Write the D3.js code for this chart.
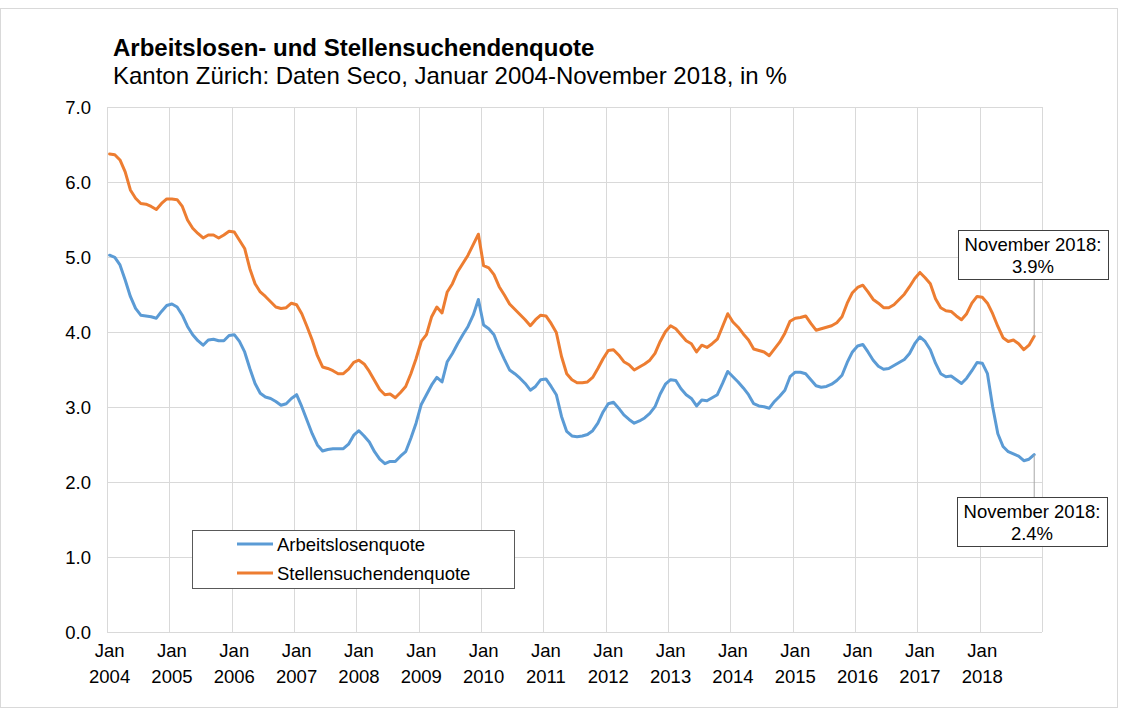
<!DOCTYPE html>
<html>
  <head>
    <meta charset="utf-8">
    <title>Arbeitslosen- und Stellensuchendenquote</title>
    <style>
      body { margin: 0; background: #fff; }
      svg { font-family: "Liberation Sans", Arial, sans-serif; }
      .grid line { stroke: #d9d9d9; stroke-width: 1; shape-rendering: crispEdges; }
      .axis text { font-size: 18.5px; fill: #000; }
      .axis path, .axis line { display: none; }
    </style>
  </head>
  <body>
    <div class="chart"></div>
    <script src="https://d3js.org/d3.v7.min.js"></script>
    <script>
      // Data: monthly values, Jan 2004 - Nov 2018 (in %)
      var years = d3.range(2004, 2019);
      var monthNames = ["Jan", "Feb", "Mär", "Apr", "Mai", "Jun", "Jul", "Aug", "Sep", "Okt", "Nov", "Dez"];
      var yTicks = [0, 1, 2, 3, 4, 5, 6, 7];

      var arbeitslosenquote = [
        5.02, 4.99, 4.89, 4.69, 4.47, 4.31, 4.22, 4.21, 4.20, 4.18, 4.27, 4.35,
        4.37, 4.33, 4.22, 4.07, 3.96, 3.88, 3.82, 3.89, 3.90, 3.88, 3.88, 3.95,
        3.96, 3.87, 3.73, 3.51, 3.31, 3.18, 3.13, 3.11, 3.07, 3.02, 3.04, 3.11,
        3.16, 3.00, 2.82, 2.64, 2.49, 2.41, 2.43, 2.44, 2.44, 2.44, 2.50, 2.62,
        2.68, 2.61, 2.53, 2.40, 2.30, 2.24, 2.27, 2.27, 2.34, 2.40, 2.58, 2.78,
        3.03, 3.16, 3.29, 3.39, 3.33, 3.60, 3.71, 3.84, 3.96, 4.07, 4.22, 4.43,
        4.09, 4.04, 3.96, 3.78, 3.63, 3.49, 3.44, 3.38, 3.31, 3.22, 3.27, 3.36,
        3.37, 3.27, 3.16, 2.87, 2.67, 2.61, 2.60, 2.61, 2.63, 2.68, 2.78, 2.93,
        3.04, 3.06, 2.98, 2.89, 2.83, 2.78, 2.81, 2.85, 2.91, 3.00, 3.17, 3.30,
        3.36, 3.35, 3.24, 3.16, 3.11, 3.01, 3.09, 3.08, 3.12, 3.16, 3.31, 3.47,
        3.40, 3.33, 3.25, 3.16, 3.04, 3.01, 3.00, 2.98, 3.07, 3.14, 3.22, 3.40,
        3.46, 3.46, 3.44, 3.36, 3.28, 3.26, 3.27, 3.30, 3.35, 3.42, 3.59, 3.73,
        3.81, 3.83, 3.73, 3.62, 3.54, 3.50, 3.51, 3.55, 3.59, 3.63, 3.71, 3.84,
        3.93, 3.87, 3.76, 3.58, 3.44, 3.40, 3.41, 3.36, 3.31, 3.38, 3.48, 3.59,
        3.58, 3.44, 3.00, 2.64, 2.47, 2.40, 2.37, 2.34, 2.28, 2.30, 2.36
      ];

      var stellensuchendenquote = [
        6.37, 6.36, 6.29, 6.13, 5.89, 5.78, 5.71, 5.70, 5.67, 5.63, 5.71, 5.77,
        5.77, 5.76, 5.67, 5.49, 5.38, 5.31, 5.25, 5.29, 5.29, 5.25, 5.29, 5.34,
        5.33, 5.22, 5.11, 4.84, 4.64, 4.53, 4.47, 4.40, 4.33, 4.31, 4.32, 4.38,
        4.36, 4.24, 4.07, 3.89, 3.68, 3.53, 3.51, 3.48, 3.44, 3.44, 3.50, 3.59,
        3.62, 3.57, 3.47, 3.35, 3.23, 3.16, 3.17, 3.12, 3.19, 3.27, 3.44, 3.64,
        3.87, 3.96, 4.20, 4.33, 4.25, 4.53, 4.64, 4.80, 4.91, 5.02, 5.16, 5.30,
        4.88, 4.85, 4.76, 4.60, 4.49, 4.37, 4.30, 4.23, 4.16, 4.08, 4.16, 4.22,
        4.21, 4.11, 3.99, 3.67, 3.44, 3.36, 3.32, 3.32, 3.33, 3.39, 3.51, 3.64,
        3.75, 3.76, 3.69, 3.60, 3.56, 3.49, 3.53, 3.57, 3.62, 3.71, 3.87, 4.00,
        4.08, 4.04, 3.96, 3.88, 3.84, 3.73, 3.82, 3.79, 3.84, 3.90, 4.07, 4.24,
        4.13, 4.06, 3.97, 3.89, 3.77, 3.75, 3.73, 3.68, 3.77, 3.86, 3.98, 4.14,
        4.18, 4.19, 4.21, 4.11, 4.02, 4.04, 4.06, 4.08, 4.12, 4.20, 4.38, 4.52,
        4.59, 4.62, 4.53, 4.43, 4.38, 4.32, 4.32, 4.36, 4.43, 4.50, 4.60, 4.71,
        4.79, 4.72, 4.64, 4.44, 4.32, 4.28, 4.27, 4.21, 4.16, 4.24, 4.38, 4.47,
        4.46, 4.38, 4.24, 4.07, 3.92, 3.87, 3.89, 3.84, 3.76, 3.82, 3.94
      ];

      var seriesNames = ["Arbeitslosenquote", "Stellensuchendenquote"];
      var colors = ["#5b9bd5", "#ed7d31"];
      var lastLabel = "November 2018:";

      // one category per month, Jan 2004 - Dec 2018
      var months = [];
      years.forEach(function(y) {
        monthNames.forEach(function(m) { months.push(m + " " + y); });
      });

      var width = 1123, height = 708;
      var margin = {top: 106.7, right: 81, bottom: 76.3, left: 107};

      var svg = d3.select(".chart").append("svg")
        .attr("width", width)
        .attr("height", height);

      // outer border
      svg.append("rect")
        .attr("x", 0.5).attr("y", 8.5)
        .attr("width", 1117).attr("height", 699)
        .attr("fill", "none").attr("stroke", "#d9d9d9");

      var x = d3.scaleBand()
        .domain(months)
        .range([margin.left, width - margin.right])
        .padding(0);

      var y = d3.scaleLinear()
        .domain([0, 7])
        .range([height - margin.bottom, margin.top]);

      var janMonths = months.filter(function(d) { return d.indexOf("Jan") === 0; });

      // gridlines
      var grid = svg.append("g").attr("class", "grid");
      grid.selectAll(".hline")
        .data(yTicks)
        .enter().append("line")
        .attr("x1", margin.left).attr("x2", width - margin.right)
        .attr("y1", function(d) { return Math.round(y(d)) + 0.5; })
        .attr("y2", function(d) { return Math.round(y(d)) + 0.5; });
      grid.selectAll(".vline")
        .data(janMonths.concat(["end"]))
        .enter().append("line")
        .attr("x1", function(d) { return Math.round(d === "end" ? x.range()[1] : x(d)) + 0.5; })
        .attr("x2", function(d) { return Math.round(d === "end" ? x.range()[1] : x(d)) + 0.5; })
        .attr("y1", y(7)).attr("y2", y(0));

      // y axis
      svg.append("g")
        .attr("class", "axis")
        .attr("transform", "translate(" + (margin.left - 13) + ",0)")
        .call(d3.axisLeft(y).tickValues(yTicks).tickFormat(d3.format(".1f")).tickSize(0))
        .selectAll("text").attr("dy", "0.35em");

      // x axis: "Jan" / year on two lines
      var xAxis = svg.append("g")
        .attr("class", "axis")
        .attr("transform", "translate(0," + y(0) + ")")
        .call(d3.axisBottom(x).tickValues(janMonths).tickSize(0).tickFormat(""));
      xAxis.selectAll(".tick text").remove();
      xAxis.selectAll(".tick").append("text")
        .attr("text-anchor", "middle")
        .selectAll("tspan")
        .data(function(d) { return d.split(" "); })
        .enter().append("tspan")
        .attr("x", 0)
        .attr("y", function(d, i) { return 25 + i * 26; })
        .text(function(d) { return d; });

      // lines
      var series = [arbeitslosenquote, stellensuchendenquote];
      var line = d3.line()
        .x(function(d, i) { return x(months[i]) + x.bandwidth() / 2; })
        .y(function(d) { return y(d); });

      svg.selectAll(".series")
        .data(series)
        .enter().append("path")
        .attr("class", "series")
        .attr("fill", "none")
        .attr("stroke", function(d, i) { return colors[i]; })
        .attr("stroke-width", 3)
        .attr("stroke-linejoin", "round")
        .attr("stroke-linecap", "round")
        .attr("d", line);

      // title
      svg.append("text")
        .attr("x", 113).attr("y", 56)
        .attr("font-size", 24).attr("font-weight", "bold")
        .text("Arbeitslosen- und Stellensuchendenquote");
      svg.append("text")
        .attr("x", 113).attr("y", 84)
        .attr("font-size", 24)
        .text("Kanton Zürich: Daten Seco, Januar 2004-November 2018, in %");

      // legend
      var legend = svg.append("g");
      legend.append("rect")
        .attr("x", 192.5).attr("y", 530.5)
        .attr("width", 322).attr("height", 58)
        .attr("fill", "#fff").attr("stroke", "#595959");
      seriesNames.forEach(function(name, i) {
        var ly = 544 + i * 29;
        legend.append("line")
          .attr("x1", 237).attr("x2", 273)
          .attr("y1", ly).attr("y2", ly)
          .attr("stroke", colors[i]).attr("stroke-width", 3);
        legend.append("text")
          .attr("x", 277).attr("y", ly + 6.5)
          .attr("font-size", 18.5)
          .text(name);
      });

      // annotations for the last value
      var boxes = [
        {s: 1, bx: 958, by: 230, bw: 150, bh: 49},
        {s: 0, bx: 957, by: 497, bw: 150, bh: 49}
      ];
      boxes.forEach(function(b) {
        var vals = series[b.s];
        var last = vals.length - 1;
        var px = x(months[last]) + x.bandwidth() / 2;
        var py = y(vals[last]);
        var ty = py < b.by ? b.by : b.by + b.bh;
        svg.append("line")
          .attr("x1", px).attr("y1", py)
          .attr("x2", px).attr("y2", ty)
          .attr("stroke", "#a6a6a6").attr("stroke-width", 1);
        svg.append("rect")
          .attr("x", b.bx + 0.5).attr("y", b.by + 0.5)
          .attr("width", b.bw).attr("height", b.bh)
          .attr("fill", "#fff").attr("stroke", "#404040");
        var t = svg.append("text")
          .attr("text-anchor", "middle")
          .attr("font-size", 18.5);
        t.append("tspan")
          .attr("x", b.bx + b.bw / 2).attr("y", b.by + 21)
          .text(lastLabel);
        t.append("tspan")
          .attr("x", b.bx + b.bw / 2).attr("y", b.by + 43)
          .text(d3.format(".1f")(vals[last]) + "%");
      });
    </script>
  </body>
</html>
